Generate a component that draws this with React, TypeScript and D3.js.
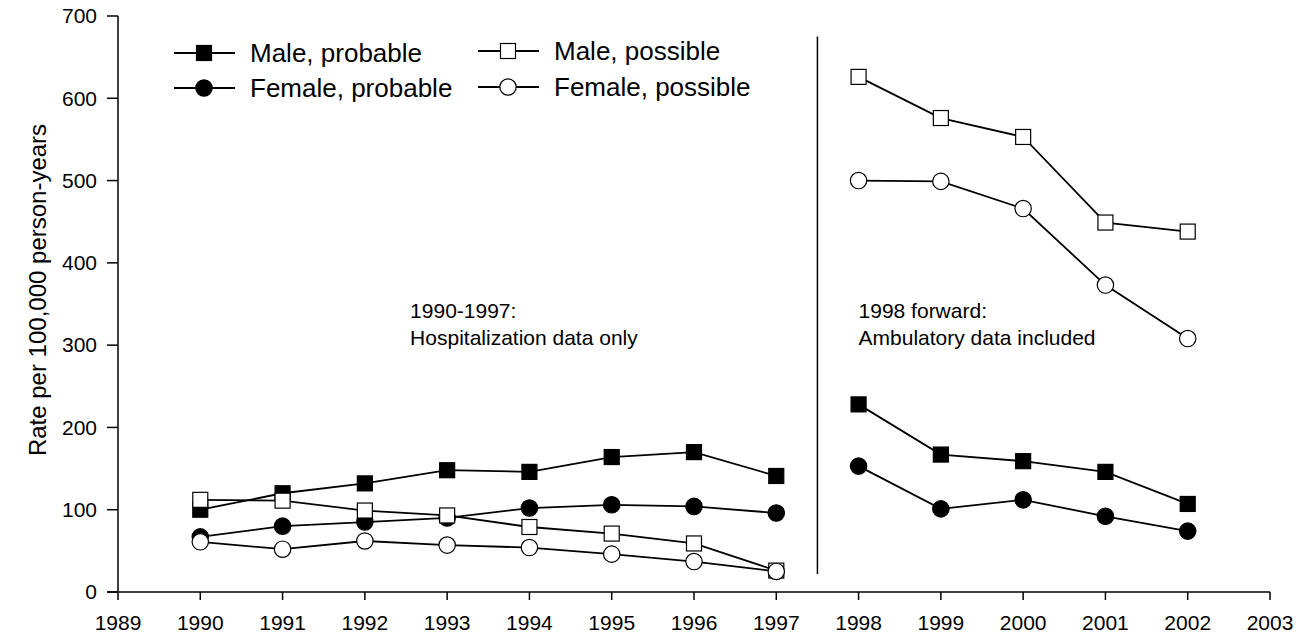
import React from 'react';
import * as d3 from 'd3';

const years = [1990, 1991, 1992, 1993, 1994, 1995, 1996, 1997, 1998, 1999, 2000, 2001, 2002];
const maleProbable = [100, 120, 132, 148, 146, 164, 170, 141, 228, 167, 159, 146, 107];
const femaleProbable = [67, 80, 85, 90, 102, 106, 104, 96, 153, 101, 112, 92, 74];
const malePossible = [112, 111, 99, 93, 79, 71, 59, 26, 626, 576, 553, 449, 438];
const femalePossible = [61, 52, 62, 57, 54, 46, 37, 25, 500, 499, 466, 373, 308];
const xTicks = d3.range(1989, 2004);
const yTicks = [0, 100, 200, 300, 400, 500, 600, 700];
const breakYear = 1997.5;

type Series = { name: string; values: number[]; shape: 'square' | 'circle'; filled: boolean };
const series: Series[] = [
  { name: 'Male, probable', values: maleProbable, shape: 'square', filled: true },
  { name: 'Female, probable', values: femaleProbable, shape: 'circle', filled: true },
  { name: 'Male, possible', values: malePossible, shape: 'square', filled: false },
  { name: 'Female, possible', values: femalePossible, shape: 'circle', filled: false },
];

const FONT = "'Liberation Sans', Arial, Helvetica, sans-serif";

function Marker({ cx, cy, shape, filled }: { cx: number; cy: number; shape: string; filled: boolean }) {
  const fill = filled ? '#000' : '#fff';
  if (shape === 'square') {
    const s = 15;
    return <rect x={cx - s / 2} y={cy - s / 2} width={s} height={s} fill={fill} stroke="#000" strokeWidth={1.2} />;
  }
  return <circle cx={cx} cy={cy} r={8.2} fill={fill} stroke="#000" strokeWidth={1.2} />;
}

export default function App() {
  const W = 1311, H = 637;
  const x = d3.scaleLinear().domain([1989, 2003]).range([118, 1270]);
  const y = d3.scaleLinear().domain([0, 700]).range([592, 16]);
  const line = d3.line<[number, number]>().x(d => x(d[0])).y(d => y(d[1]));

  const legend = [
    { s: series[0], lx: 174, ly: 53 },
    { s: series[1], lx: 174, ly: 88 },
    { s: series[2], lx: 478, ly: 51 },
    { s: series[3], lx: 478, ly: 87 },
  ];

  return (
    <svg width={W} height={H} style={{ position: 'absolute', left: 0, top: 0, background: '#fff' }} fontFamily={FONT}>
      {/* axes */}
      <line x1={x(1989)} x2={x(1989)} y1={y(0)} y2={y(700)} stroke="#000" strokeWidth={1.5} />
      <line x1={x(1989) - 11} x2={x(2003)} y1={y(0)} y2={y(0)} stroke="#000" strokeWidth={1.5} />
      {yTicks.map(t => (
        <g key={'y' + t}>
          <line x1={x(1989) - 11} x2={x(1989)} y1={y(t)} y2={y(t)} stroke="#000" strokeWidth={1.5} />
          <text x={x(1989) - 21} y={y(t)} dy="0.35em" textAnchor="end" fontSize={21}>{t}</text>
        </g>
      ))}
      {xTicks.map(t => (
        <g key={'x' + t}>
          <line x1={x(t)} x2={x(t)} y1={y(0)} y2={y(0) + 8} stroke="#000" strokeWidth={1.5} />
          <text x={x(t)} y={y(0) + 38} textAnchor="middle" fontSize={21}>{t}</text>
        </g>
      ))}
      <text transform={`translate(46,290) rotate(-90)`} textAnchor="middle" fontSize={24}>Rate per 100,000 person-years</text>

      {/* divider */}
      <line x1={x(breakYear)} x2={x(breakYear)} y1={y(22)} y2={y(675)} stroke="#000" strokeWidth={1.5} />

      {/* annotations */}
      <text fontSize={21}>
        <tspan x={x(1992.55)} y={318}>1990-1997:</tspan>
        <tspan x={x(1992.55)} dy={27}>Hospitalization data only</tspan>
      </text>
      <text fontSize={21}>
        <tspan x={x(1998)} y={318}>1998 forward:</tspan>
        <tspan x={x(1998)} dy={27}>Ambulatory data included</tspan>
      </text>

      {/* series */}
      {series.map(s => {
        const pts: [number, number][] = years.map((yr, i) => [yr, s.values[i]]);
        const a = pts.filter(p => p[0] < breakYear);
        const b = pts.filter(p => p[0] > breakYear);
        return (
          <g key={s.name}>
            <path d={line(a) || ''} fill="none" stroke="#000" strokeWidth={1.8} />
            <path d={line(b) || ''} fill="none" stroke="#000" strokeWidth={1.8} />
            {pts.map(p => (
              <Marker key={p[0]} cx={x(p[0])} cy={y(p[1])} shape={s.shape} filled={s.filled} />
            ))}
          </g>
        );
      })}

      {/* legend */}
      {legend.map(({ s, lx, ly }) => (
        <g key={'lg' + s.name}>
          <line x1={lx} x2={lx + 61} y1={ly} y2={ly} stroke="#000" strokeWidth={1.8} />
          <Marker cx={lx + 30} cy={ly} shape={s.shape} filled={s.filled} />
          <text x={lx + 76} y={ly} dy="0.35em" fontSize={26}>{s.name}</text>
        </g>
      ))}
    </svg>
  );
}
